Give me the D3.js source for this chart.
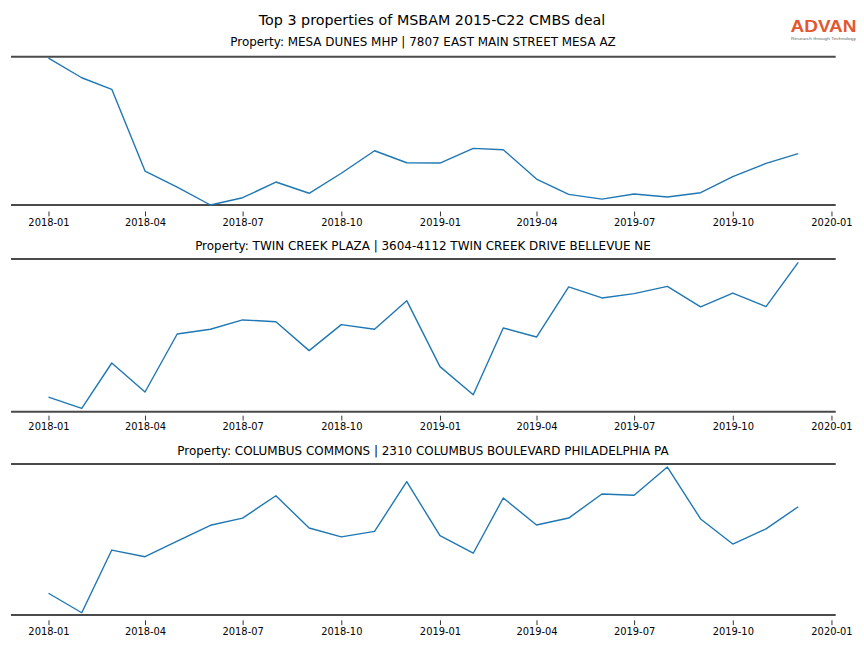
<!DOCTYPE html>
<html>
<head>
<meta charset="utf-8">
<script src="https://cdn.jsdelivr.net/npm/d3@7"></script>
<style>
  html, body { margin: 0; padding: 0; background: #fff; }
  svg { display: block; font-family: "DejaVu Sans", sans-serif; }
</style>
</head>
<body>
<svg id="chart" width="864" height="648"></svg>
<script>
// ---- Data ----
const months = ["2018-01","2018-02","2018-03","2018-04","2018-05","2018-06","2018-07","2018-08","2018-09","2018-10","2018-11","2018-12",
                "2019-01","2019-02","2019-03","2019-04","2019-05","2019-06","2019-07","2019-08","2019-09","2019-10","2019-11","2019-12"];
const tickLabels = ["2018-01","2018-04","2018-07","2018-10","2019-01","2019-04","2019-07","2019-10","2020-01"];
const propertyTitles = [
  "Property: MESA DUNES MHP | 7807 EAST MAIN STREET MESA AZ",
  "Property: TWIN CREEK PLAZA | 3604-4112 TWIN CREEK DRIVE BELLEVUE NE",
  "Property: COLUMBUS COMMONS | 2310 COLUMBUS BOULEVARD PHILADELPHIA PA"
];
const mesaDunes = [99, 85.8, 78.0, 22.9, 12, 0, 4.9, 15.5, 7.9, 21.4, 36.6, 28.5,
                   28.3, 38.2, 37.3, 17.5, 7.2, 4.0, 7.4, 5.4, 8.3, 19.1, 28.1, 34.6];
const twinCreek = [9.6, 2.2, 31.9, 12.9, 50.9, 54.0, 60.1, 58.9, 40.0, 57.0, 54.0, 72.7,
                   29.5, 11.1, 54.8, 48.9, 81.7, 74.5, 77.3, 82.1, 68.6, 77.7, 68.8, 97.8];
const columbus = [14.4, 1.5, 43.0, 38.6, 49.0, 59.4, 64.2, 79.0, 57.6, 51.7, 55.4, 88.3,
                  52.5, 40.9, 77.5, 59.6, 64.2, 80.1, 79.3, 98.0, 63.6, 47.0, 57.0, 71.7];
const seriesList = [mesaDunes, twinCreek, columbus];
const mainTitle = "Top 3 properties of MSBAM 2015-C22 CMBS deal";

// ---- Layout ----
const svg = d3.select("#chart");
const parse = d3.timeParse("%Y-%m");
const dates = months.map(parse);
const tickDates = tickLabels.map(parse);
const left = 11, right = 835.7;
const dMin = dates[0], dMax = dates[dates.length - 1];
const span = dMax - dMin;
const x = d3.scaleTime()
  .domain([new Date(+dMin - span * 0.05), new Date(+dMax + span * 0.05)])
  .range([left, right]);

const panels = [
  {top: 56.7, bottom: 205.0, axisY: 211.5, titleY: 46},
  {top: 259.0, bottom: 411.7, axisY: 415.7, titleY: 250},
  {top: 464.0, bottom: 615.0, axisY: 620.3, titleY: 454.5}
];

svg.append("text")
  .attr("x", 432).attr("y", 24.8)
  .attr("text-anchor", "middle")
  .attr("font-size", 14.3)
  .attr("fill", "#000")
  .text(mainTitle);

// logo
const logo = svg.append("g");
logo.append("text").attr("x", 790.5).attr("y", 32)
  .attr("font-family", "Liberation Sans, Arial, sans-serif")
  .attr("font-weight", "bold")
  .attr("font-size", 16).attr("fill", "#e4572e")
  .attr("textLength", 66).attr("lengthAdjust", "spacingAndGlyphs")
  .text("ADVAN");
logo.append("text").attr("x", 791).attr("y", 39.8)
  .attr("font-family", "Liberation Sans, Arial, sans-serif")
  .attr("font-size", 4.3).attr("fill", "#666")
  .attr("textLength", 65).attr("lengthAdjust", "spacingAndGlyphs")
  .text("Research through Technology");

panels.forEach((p, i) => {
  const vals = seriesList[i];
  const y = d3.scaleLinear().domain([0, 100]).range([p.bottom, p.top]);
  const g = svg.append("g");

  g.append("text")
    .attr("x", 423).attr("y", p.titleY)
    .attr("text-anchor", "middle")
    .attr("font-size", 11.95)
    .attr("fill", "#000")
    .text(propertyTitles[i]);

  // x axis
  const ax = g.append("g")
    .attr("transform", `translate(0,${p.axisY})`)
    .call(d3.axisBottom(x).tickValues(tickDates).tickFormat(d3.timeFormat("%Y-%m")).tickSize(4.8).tickPadding(2.6));
  ax.select(".domain").remove();
  ax.selectAll(".tick line").attr("stroke", "#000").attr("stroke-width", 0.8);
  ax.selectAll(".tick text").attr("font-size", 9.9).attr("fill", "#000")
    .attr("font-family", "DejaVu Sans, sans-serif");

  // top / bottom spines
  [p.top, p.bottom].forEach(yy => {
    g.append("line").attr("x1", left).attr("x2", right).attr("y1", yy).attr("y2", yy)
      .attr("stroke", "#4a4a4a").attr("stroke-width", 2);
  });

  const line = d3.line().x((d, j) => x(dates[j])).y(d => y(d));
  g.append("path").datum(vals)
    .attr("d", line)
    .attr("fill", "none")
    .attr("stroke", "#1f77b4")
    .attr("stroke-width", 1.4)
    .attr("stroke-linejoin", "round");
});
</script>
</body>
</html>
